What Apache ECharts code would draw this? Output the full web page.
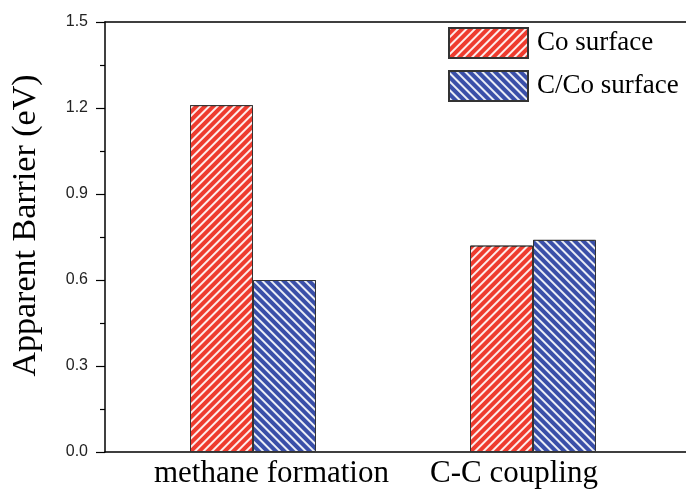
<!DOCTYPE html>
<html>
<head>
<meta charset="utf-8">
<script src="https://cdn.jsdelivr.net/npm/echarts@6/dist/echarts.min.js"></script>
<style>html,body{margin:0;padding:0;background:#fff}#c{width:686px;height:489px}</style>
</head>
<body>
<div id="c"></div>
<script>
const categories = ['methane formation', 'C-C coupling'];
const seriesNames = ['Co surface', 'C/Co surface'];
const coSurface = [1.21, 0.72];
const cCoSurface = [0.60, 0.74];
const yTicks = [0, 0.3, 0.6, 0.9, 1.2, 1.5];

const chart = echarts.init(document.getElementById('c'), null, {renderer: 'canvas'});
const serif = '"Liberation Serif", "Times New Roman", serif';
const sans = '"Liberation Sans", Arial, sans-serif';
const catPos = categories.map((c, i) => i + 1);
// label anchors are slightly offset from the bar-group centres, as in the source figure
const labelPos = [catPos[0] + 0.066, catPos[1] - 0.068];
const X_MIN = 0.4714, X_MAX = 2.5464;

function nearestIdx(v) {
  let best = 0;
  labelPos.forEach((p, i) => { if (Math.abs(p - v) < Math.abs(labelPos[best] - v)) best = i; });
  return best;
}

function decal(rot) {
  return {
    symbol: 'rect',
    symbolSize: 1,
    color: 'rgba(255,255,255,0.9)',
    dashArrayX: [1, 0],
    dashArrayY: [1.6, 3.4],
    rotation: rot
  };
}

chart.setOption({
  animation: false,
  backgroundColor: '#fff',
  grid: {left: 105, top: 22, right: 0, bottom: 36, containLabel: false},
  legend: {
    orient: 'vertical', left: 448, top: 27, icon: 'rect', padding: 0,
    itemWidth: 79, itemHeight: 30, itemGap: 11,
    textStyle: {fontFamily: serif, fontSize: 27, color: '#000', padding: [0, 0, 0, 4]},
    data: seriesNames
  },
  xAxis: [{
    type: 'value', min: X_MIN, max: X_MAX,
    splitLine: {show: false},
    axisLine: {show: true, onZero: false, lineStyle: {color: '#000', width: 1.5}},
    axisTick: {show: false},
    axisLabel: {
      customValues: labelPos,
      formatter: v => categories[nearestIdx(v)],
      fontFamily: serif, fontSize: 31, color: '#000',
      margin: 6
    }
  }, {
    type: 'value', position: 'top', min: X_MIN, max: X_MAX,
    splitLine: {show: false},
    axisLine: {show: true, onZero: false, lineStyle: {color: '#000', width: 1.5}},
    axisTick: {show: false}, axisLabel: {show: false}
  }],
  yAxis: {
    type: 'value', min: yTicks[0], max: yTicks[yTicks.length - 1], interval: 0.3,
    name: 'Apparent Barrier (eV)', nameLocation: 'middle', nameGap: 62,
    nameTextStyle: {fontFamily: serif, fontSize: 34, color: '#000', padding: [0, 0, 0, 23]},
    splitLine: {show: false},
    axisLine: {show: true, onZero: false, lineStyle: {color: '#000', width: 1.5}},
    axisTick: {show: true, length: 9, lineStyle: {color: '#000', width: 1.2}},
    minorTick: {show: true, splitNumber: 2, length: 5, lineStyle: {color: '#000', width: 1.2}},
    axisLabel: {fontFamily: sans, fontSize: 16, color: '#222', margin: 17,
      formatter: v => v.toFixed(1)}
  },
  series: [{
    name: seriesNames[0], type: 'bar', barWidth: 63, barGap: '0%',
    data: catPos.map((p, i) => [p, coSurface[i]]),
    itemStyle: {color: '#EE3B2E', borderColor: '#333', borderWidth: 1, decal: decal(-Math.PI / 4)}
  }, {
    name: seriesNames[1], type: 'bar', barWidth: 63, barGap: '0%',
    data: catPos.map((p, i) => [p, cCoSurface[i]]),
    itemStyle: {color: '#3A4FA8', borderColor: '#333', borderWidth: 1, decal: decal(Math.PI / 4)}
  }]
});
</script>
</body>
</html>
